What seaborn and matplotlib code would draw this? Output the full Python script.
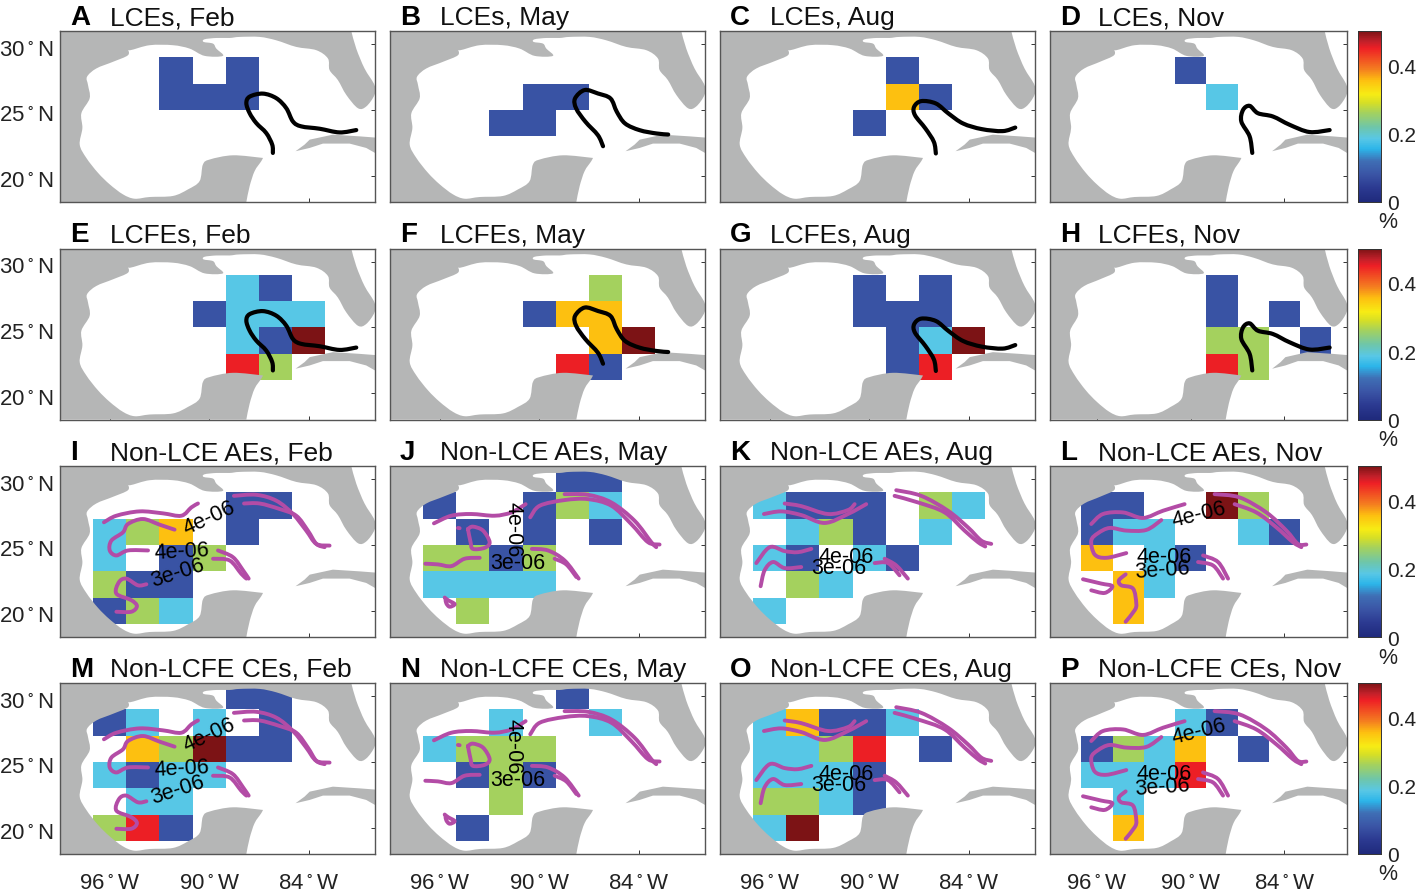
import matplotlib
matplotlib.use("Agg")
import matplotlib.pyplot as plt
from matplotlib.colors import LinearSegmentedColormap
from matplotlib.patches import PathPatch
from matplotlib.path import Path
from matplotlib.transforms import ScaledTranslation
import numpy as np
import pandas as pd
import seaborn as sns

sns.set_theme(style="white")
plt.rcParams['font.family'] = ['Liberation Sans', 'DejaVu Sans']
plt.rcParams['mathtext.default'] = 'regular'

# percentage levels seen in the cells
BLU, CYA, GRN, ORG, RED, DRK = 0.08, 0.185, 0.26, 0.355, 0.45, 0.5

# grid cells, (west edge lon, south edge lat, value)
lce_feb = [(-93, 27, BLU), (-89, 27, BLU), (-93, 25, BLU), (-91, 25, BLU), (-89, 25, BLU)]
lce_may = [(-91, 25, BLU), (-89, 25, BLU), (-93, 23, BLU), (-91, 23, BLU)]
lce_aug = [(-89, 27, BLU), (-89, 25, ORG), (-87, 25, BLU), (-91, 23, BLU)]
lce_nov = [(-91, 27, BLU), (-89, 25, CYA)]

lcfe_feb = [(-89, 27, CYA), (-87, 27, BLU), (-91, 25, BLU), (-89, 25, CYA), (-87, 25, CYA), (-85, 25, CYA),
            (-89, 23, CYA), (-87, 23, BLU), (-85, 23, DRK), (-89, 21, RED), (-87, 21, GRN)]
lcfe_may = [(-87, 27, GRN), (-91, 25, BLU), (-89, 25, ORG), (-87, 25, ORG), (-87, 23, ORG), (-85, 23, DRK),
            (-89, 21, RED), (-87, 21, BLU)]
lcfe_aug = [(-91, 27, BLU), (-87, 27, BLU), (-91, 25, BLU), (-89, 25, BLU), (-87, 25, BLU), (-89, 23, BLU),
            (-87, 23, CYA), (-85, 23, DRK), (-89, 21, BLU), (-87, 21, RED)]
lcfe_nov = [(-89, 27, BLU), (-89, 25, BLU), (-85, 25, BLU), (-89, 23, GRN), (-87, 23, GRN), (-83, 23, BLU),
            (-89, 21, RED), (-87, 21, GRN)]

ae_feb = [(-89, 27, BLU), (-87, 27, BLU), (-97, 25, CYA), (-95, 25, GRN), (-93, 25, ORG), (-89, 25, BLU),
          (-97, 23, CYA), (-93, 23, BLU), (-91, 23, GRN), (-97, 21, GRN), (-95, 21, BLU), (-93, 21, BLU),
          (-97, 19, BLU), (-95, 19, GRN), (-93, 19, CYA)]
ae_may = [(-89, 29, BLU), (-87, 29, BLU), (-97, 27, BLU), (-91, 27, BLU), (-89, 27, GRN), (-87, 27, CYA),
          (-95, 25, BLU), (-91, 25, BLU), (-87, 25, BLU), (-97, 23, GRN), (-95, 23, GRN), (-93, 23, BLU),
          (-91, 23, GRN), (-97, 21, CYA), (-95, 21, CYA), (-93, 21, CYA), (-91, 21, CYA), (-95, 19, GRN)]
ae_aug = [(-97, 27, CYA), (-95, 27, BLU), (-93, 27, BLU), (-91, 27, BLU), (-87, 27, GRN), (-85, 27, CYA),
          (-95, 25, CYA), (-93, 25, GRN), (-91, 25, BLU), (-87, 25, CYA), (-97, 23, CYA), (-95, 23, BLU),
          (-91, 23, CYA), (-89, 23, BLU), (-95, 21, GRN), (-93, 21, CYA), (-97, 19, CYA)]
ae_nov = [(-97, 27, BLU), (-95, 27, BLU), (-89, 27, DRK), (-87, 27, GRN), (-97, 25, BLU), (-95, 25, CYA),
          (-93, 25, CYA), (-87, 25, CYA), (-85, 25, BLU), (-97, 23, ORG), (-93, 23, CYA), (-91, 23, BLU),
          (-95, 21, ORG), (-93, 21, CYA), (-95, 19, ORG)]

ce_feb = [(-89, 29, BLU), (-87, 29, BLU), (-97, 27, BLU), (-95, 27, CYA), (-91, 27, CYA), (-87, 27, BLU),
          (-95, 25, ORG), (-93, 25, GRN), (-91, 25, DRK), (-89, 25, BLU), (-87, 25, BLU), (-97, 23, CYA),
          (-95, 23, BLU), (-93, 23, CYA), (-91, 23, CYA), (-95, 21, CYA), (-93, 21, CYA),
          (-97, 19, GRN), (-95, 19, RED), (-93, 19, BLU)]
ce_may = [(-89, 29, BLU), (-93, 27, CYA), (-87, 27, CYA), (-97, 25, CYA), (-95, 25, GRN), (-93, 25, GRN),
          (-91, 25, GRN), (-95, 23, BLU), (-93, 23, GRN), (-91, 23, BLU), (-93, 21, GRN), (-95, 19, BLU)]
ce_aug = [(-97, 27, CYA), (-95, 27, ORG), (-93, 27, BLU), (-91, 27, BLU), (-89, 27, CYA), (-97, 25, CYA),
          (-95, 25, CYA), (-93, 25, GRN), (-91, 25, RED), (-87, 25, BLU), (-97, 23, CYA), (-95, 23, CYA),
          (-93, 23, CYA), (-91, 23, BLU), (-97, 21, GRN), (-95, 21, GRN), (-93, 21, CYA), (-91, 21, BLU),
          (-97, 19, CYA), (-95, 19, DRK)]
ce_nov = [(-91, 27, CYA), (-89, 27, BLU), (-97, 25, BLU), (-95, 25, GRN), (-93, 25, CYA), (-91, 25, ORG),
          (-87, 25, BLU), (-97, 23, CYA), (-95, 23, CYA), (-93, 23, CYA), (-91, 23, RED), (-95, 21, CYA),
          (-95, 19, ORG)]

# coastline, lon / lat
coast_main = [(-86.76, 21.35), (-88.57, 21.55), (-89.97, 21.23), (-90.38, 20.85), (-90.58, 19.59), (-91.28, 18.96),
              (-92.19, 18.46), (-93.59, 18.38), (-94.5, 18.25), (-95.2, 18.58), (-96.0, 19.34), (-96.71, 20.22),
              (-97.41, 21.35), (-97.81, 22.36), (-97.65, 23.62), (-97.71, 24.75), (-97.21, 25.89), (-97.31, 26.89),
              (-97.37, 27.52), (-96.81, 28.15), (-95.8, 28.66), (-94.9, 29.16), (-94.9, 29.67), (-94.76, 29.54),
              (-93.59, 29.92), (-92.19, 29.92), (-91.18, 29.66), (-90.28, 29.11), (-89.17, 29.11), (-89.57, 29.66),
              (-89.77, 30.04), (-90.34, 30.17), (-90.28, 30.37), (-89.57, 30.47), (-88.77, 30.47), (-88.17, 30.55),
              (-86.96, 30.55), (-85.95, 30.29), (-84.75, 29.79), (-83.54, 29.54), (-82.84, 28.91), (-82.74, 28.03),
              (-82.24, 27.27), (-81.73, 26.14), (-81.03, 25.13), (-80.53, 25.26), (-80.03, 26.14), (-80.03, 26.89),
              (-80.63, 28.15), (-81.13, 29.66), (-81.43, 31)]
coast_corners = [(-99, 31), (-99, 18), (-87.76, 18)]
coast_east = [(-87.76, 18), (-87.56, 19.21), (-87.26, 20.35), (-86.86, 21.1), (-86.76, 21.35)]
cuba_lon = [-84.79, -84.25, -83.94, -82.54, -80.93, -80, -80, -80.53, -81.53, -83.14, -83.94]
cuba_lat = [21.86, 22.36, 22.74, 23.12, 22.99, 22.9, 21.73, 22.11, 22.44, 22.44, 22.11]

# loop current front, one path per month
loop_feb = [(-86.16, 21.73), (-86.2, 22.36), (-86.56, 23.24), (-87.16, 24.0), (-87.56, 24.75), (-87.76, 25.51),
            (-87.56, 26.01), (-86.76, 26.24), (-85.95, 25.89), (-85.35, 25.13), (-84.95, 24.12), (-84.45, 23.75),
            (-83.34, 23.57), (-82.14, 23.29), (-81.13, 23.47)]
loop_may = [(-86.15, 22.24), (-86.46, 23.08), (-87.21, 24.1), (-87.77, 25.11), (-87.84, 25.87), (-87.26, 26.51),
            (-86.46, 26.25), (-85.7, 25.87), (-85.32, 24.86), (-84.82, 23.97), (-83.94, 23.46), (-82.93, 23.21),
            (-82.22, 23.13)]
loop_aug = [(-85.98, 21.69), (-86.1, 22.57), (-86.61, 23.59), (-87.24, 24.6), (-87.29, 25.24), (-86.86, 25.67),
            (-85.98, 25.49), (-85.22, 24.73), (-84.34, 23.97), (-83.21, 23.54), (-81.95, 23.39), (-81.19, 23.66)]
loop_nov = [(-86.06, 21.73), (-86.23, 22.99), (-86.76, 24.12), (-86.65, 25.0), (-86.23, 25.31), (-85.7, 24.75),
            (-84.74, 24.5), (-83.67, 23.87), (-82.4, 23.32), (-81.11, 23.47)]

# purple contour pieces for the non-LC rows
cont_feb = [
    [(-96.35, 26.72), (-95.6, 27.22), (-94.2, 27.55), (-92.79, 27.4), (-91.68, 27.22), (-91.08, 27.85), (-90.68, 28.15)],
    [(-92.09, 26.16), (-92.99, 26.54), (-94.0, 26.97), (-94.9, 26.59), (-95.2, 25.96), (-95.9, 25.33), (-96.0, 24.58),
     (-95.6, 24.2), (-94.9, 24.58), (-93.69, 24.58)],
    [(-88.51, 28.73), (-87.16, 28.81), (-85.95, 28.36), (-84.95, 27.35), (-84.15, 26.09), (-83.54, 25.08), (-82.74, 24.95)],
    [(-87.9, 28.15), (-86.96, 28.15), (-85.75, 27.73), (-84.75, 27.22), (-84.05, 26.09), (-83.54, 25.08), (-83.04, 24.83)],
    [(-89.47, 24.58), (-88.57, 24.07), (-87.96, 23.07), (-87.62, 22.44)],
    [(-89.77, 23.95), (-88.77, 23.82), (-88.07, 22.81), (-87.76, 22.44)],
    [(-93.79, 22.01), (-94.3, 21.93), (-95.0, 22.44), (-95.44, 22.18), (-95.6, 21.3), (-94.7, 20.8), (-94.36, 20.35),
     (-94.7, 19.92), (-95.6, 19.92)],
]
cont_may = [
    [(-96.35, 26.64), (-95.3, 27.22), (-94.1, 27.35), (-92.69, 27.22), (-91.68, 27.47), (-90.82, 28.1)],
    [(-90.54, 27.1), (-89.97, 27.98), (-88.47, 28.41), (-87.06, 28.48), (-85.65, 27.98), (-84.45, 26.59), (-83.44, 25.21), (-82.74, 25.03)],
    [(-88.47, 28.86), (-87.06, 28.81), (-85.65, 28.23), (-84.25, 26.84), (-83.24, 25.21), (-82.94, 24.83)],
    [(-94.3, 26.21), (-94.14, 25.21), (-94.0, 24.7), (-93.29, 24.78), (-92.99, 25.21), (-93.39, 26.09), (-94.0, 26.39), (-94.3, 26.21)],
    [(-94.9, 26.29), (-94.8, 26.27)],
    [(-96.87, 23.57), (-96.11, 23.52), (-95.3, 23.39), (-94.5, 23.95), (-93.59, 24.02)],
    [(-90.44, 24.7), (-89.47, 24.58), (-88.47, 23.82), (-87.62, 22.44)],
    [(-89.07, 23.95), (-88.37, 23.52), (-87.76, 22.56)],
    [(-95.7, 21.0), (-95.5, 20.8), (-95.1, 20.5), (-95.4, 20.3), (-95.6, 20.55), (-95.65, 20.85)],
]
cont_aug = [
    [(-96.35, 27.35), (-95.3, 27.55), (-94.1, 27.27), (-92.69, 26.67), (-91.28, 27.35), (-90.18, 28.1)],
    [(-95.1, 28.15), (-94.1, 27.95), (-92.49, 27.35), (-91.28, 27.65), (-90.88, 28.1)],
    [(-88.37, 29.16), (-86.86, 28.73), (-85.25, 27.6), (-84.05, 26.34), (-83.24, 25.33), (-82.64, 25.08)],
    [(-88.47, 28.73), (-87.06, 28.23), (-85.45, 27.47), (-84.25, 26.09), (-83.44, 25.21), (-83.0, 24.88)],
    [(-96.81, 23.62), (-96.0, 24.83), (-95.1, 24.53), (-94.3, 24.45), (-93.49, 24.7)],
    [(-96.55, 21.86), (-96.31, 23.07), (-95.8, 23.7), (-95.1, 23.24), (-94.1, 23.32)],
    [(-89.67, 23.62), (-88.87, 23.62), (-88.17, 22.69)],
    [(-89.07, 23.95), (-88.37, 23.44), (-87.67, 22.44)],
]
cont_nov = [
    [(-96.36, 26.59), (-95.61, 27.35), (-94.33, 27.47), (-93.05, 27.05), (-91.77, 27.6), (-90.39, 28.1)],
    [(-91.88, 26.89), (-92.84, 26.14), (-94.12, 26.09), (-95.18, 26.29), (-95.93, 25.89), (-96.36, 25.33), (-96.14, 24.27),
     (-95.4, 24.02), (-94.12, 24.38)],
    [(-88.47, 28.86), (-86.87, 28.61), (-85.16, 27.47), (-83.88, 26.09), (-83.14, 25.08), (-82.6, 25.03)],
    [(-87.19, 28.1), (-85.8, 27.47), (-84.52, 26.34), (-83.46, 25.21), (-82.92, 24.83)],
    [(-89.21, 24.2), (-88.25, 23.7), (-87.61, 22.44)],
    [(-89.53, 23.7), (-88.57, 23.44), (-87.93, 22.44)],
    [(-96.89, 22.39), (-95.72, 22.06), (-95.01, 21.86), (-95.5, 21.35), (-96.36, 21.55)],
    [(-94.16, 22.76), (-94.59, 22.31), (-94.44, 21.93), (-93.69, 21.68), (-93.48, 20.55), (-93.58, 20.04), (-94.16, 19.16)],
]

# contour labels, (lon, lat, text, rotation)
labels_feb = [(-89.97, 27.1, "4e-06", 25), (-91.64, 24.5, "4e-06", 3), (-91.88, 22.95, "3e-06", 18)]
labels_may = [(-91.58, 26.21, "4e-06", 270), (-91.32, 23.65, "3e-06", 0)]
labels_aug = [(-91.38, 24.15, "4e-06", 0), (-91.84, 23.28, "3e-06", 0)]
labels_nov = [(-89.47, 27.35, "4e-06", 14), (-91.67, 24.1, "4e-06", 0), (-91.84, 23.1, "3e-06", 4)]

letters = list("ABCDEFGHIJKLMNOP")
months = ["Feb", "May", "Aug", "Nov"]
groups = ["LCEs", "LCFEs", "Non-LCE AEs", "Non-LCFE CEs"]
panel_cells = [lce_feb, lce_may, lce_aug, lce_nov, lcfe_feb, lcfe_may, lcfe_aug, lcfe_nov,
               ae_feb, ae_may, ae_aug, ae_nov, ce_feb, ce_may, ce_aug, ce_nov]
loops = [loop_feb, loop_may, loop_aug, loop_nov]
contours = [cont_feb, cont_may, cont_aug, cont_nov]
contour_labels = [labels_feb, labels_may, labels_aug, labels_nov]

west_edges = list(range(-99, -79, 2))
south_edges = [29, 27, 25, 23, 21, 19]

colour_stops = [(0, "#1f2a7c"), (0.04, "#2b3990"), (0.08, "#3a54a5"), (0.12, "#3f6fb5"), (0.155, "#2cb5e9"),
                (0.185, "#58c7e6"), (0.22, "#6fc6a8"), (0.26, "#a3d15f"), (0.29, "#d6df26"), (0.315, "#f7ec14"),
                (0.355, "#fdc010"), (0.39, "#f47b20"), (0.45, "#ee1f25"), (0.47, "#c2202a"), (0.5, "#7c1315")]
eddy_cmap = LinearSegmentedColormap.from_list("eddy", [(v / 0.5, c) for v, c in colour_stops], N=256)

W, H = 1417, 895
lefts = [60, 390, 720, 1050]
widths = [315, 315, 315, 297]
tops = [32, 249.5, 467, 684]
P_H = 171
LAND = "#b5b6b6"
PURPLE = "#b34ca6"
DARK = "#333333"
TICK_FS = 16


def to_xy(points):
    pts = np.asarray(points, dtype=float)
    return np.column_stack([(pts[:, 0] + 99) / 2, (31 - pts[:, 1]) / 2])


def curve_through(pts):
    # bezier handles so the drawn line passes smoothly through the read points
    verts, codes = [], []
    for k in range(len(pts) - 1):
        before = pts[max(k - 1, 0)]
        after = pts[min(k + 2, len(pts) - 1)]
        verts += [pts[k] + (pts[k + 1] - before) / 6, pts[k + 1] - (after - pts[k]) / 6, pts[k + 1]]
        codes += [Path.CURVE4] * 3
    return verts, codes


def line_path(points):
    pts = to_xy(points)
    verts, codes = curve_through(pts)
    return Path([pts[0]] + verts, [Path.MOVETO] + codes)


def land_path():
    main, east = to_xy(coast_main), to_xy(coast_east)
    v1, c1 = curve_through(main)
    v2, c2 = curve_through(east)
    corners = to_xy(coast_corners)
    verts = [main[0]] + v1 + list(corners) + v2 + [main[0]]
    codes = [Path.MOVETO] + c1 + [Path.LINETO] * len(corners) + c2 + [Path.CLOSEPOLY]
    return Path(verts, codes)


def px_axes(fig, x, y, w, h):
    return fig.add_axes([x / W, 1 - (y + h) / H, w / W, h / H])


def draw_path(ax, points, color, lw):
    ax.add_patch(PathPatch(line_path(points), fill=False, edgecolor=color, lw=lw, capstyle="round",
                           joinstyle="round", zorder=3))


fig = plt.figure(figsize=(W / 100, H / 100), dpi=100)
label_shift = ScaledTranslation(0, -0.05, fig.dpi_scale_trans)

for i, cells in enumerate(panel_cells):
    row, col = divmod(i, 4)
    ax = px_axes(fig, lefts[col], tops[row], widths[col], P_H)

    grid = pd.DataFrame(np.nan, index=south_edges, columns=west_edges)
    for lon, lat, val in cells:
        grid.loc[lat, lon] = val

    # the colorbar hangs off the last panel in each row
    if col == 3:
        cax = px_axes(fig, 1358, tops[row], 23, P_H)
        sns.heatmap(grid, ax=ax, cmap=eddy_cmap, vmin=0, vmax=0.5, cbar=True, cbar_ax=cax)
        cax.set_yticks([0, 0.2, 0.4])
        cax.set_yticklabels(["0", "0.2", "0.4"], fontsize=15, color="#222222")
        cax.tick_params(axis="y", length=0, pad=4.5, right=False)
        cax.annotate("%", (0, 0), xycoords="axes fraction", xytext=(30, -20), textcoords="offset pixels",
                     ha="center", va="center", fontsize=15.5, color="#222222", annotation_clip=False)
        for s in cax.spines.values():
            s.set_visible(True)
            s.set_linewidth(0.6)
            s.set_color(DARK)
    else:
        sns.heatmap(grid, ax=ax, cmap=eddy_cmap, vmin=0, vmax=0.5, cbar=False)

    ax.add_patch(PathPatch(land_path(), facecolor=LAND, lw=0, zorder=2))
    ax.fill(*to_xy(list(zip(cuba_lon, cuba_lat))).T, color=LAND, lw=0, zorder=2)

    if row < 2:
        draw_path(ax, loops[col], "black", 3.0)
    else:
        for piece in contours[col]:
            draw_path(ax, piece, PURPLE, 2.8)
        for lon, lat, txt, rot in contour_labels[col]:
            x, y = to_xy([(lon, lat)])[0]
            ax.text(x, y, txt, rotation=rot, ha="center", va="center", fontsize=15.5, color="black",
                    zorder=4, rotation_mode="anchor")

    ax.set_xlim(0, 9.5)
    ax.set_ylim(6.5, 0)
    ax.set_xticks(to_xy([(-96, 20), (-90, 20), (-84, 20)])[:, 0])
    ax.set_yticks(to_xy([(-96, 30), (-96, 25), (-96, 20)])[:, 1])
    ax.set_xlabel("")
    ax.set_ylabel("")
    ax.set_xticklabels([r"96$\,^{\circ}\,$W", r"90$\,^{\circ}\,$W", r"84$\,^{\circ}\,$W"] if row == 3 else [],
                       rotation=0, fontsize=TICK_FS, color="#222222")
    ax.set_yticklabels([r"30$\,^{\circ}\,$N", r"25$\,^{\circ}\,$N", r"20$\,^{\circ}\,$N"] if col == 0 else [],
                       rotation=0, fontsize=TICK_FS, color="#222222")
    ax.tick_params(axis="both", which="major", direction="in", length=3, width=0.7, color=DARK,
                   top=True, bottom=True, left=True, right=True)
    ax.tick_params(axis="y", pad=5)
    ax.tick_params(axis="x", pad=13)
    for lab in ax.get_yticklabels():
        lab.set_transform(lab.get_transform() + label_shift)
    for s in ax.spines.values():
        s.set_visible(True)
        s.set_linewidth(1.0)
        s.set_color("#555555")

    # panel letter and title sit just over the frame
    ax.annotate(letters[i], (0, 1), xycoords="axes fraction", xytext=(10, 7), textcoords="offset pixels",
                fontsize=20, fontweight="bold", color="black", va="baseline", annotation_clip=False)
    ax.annotate(f"{groups[row]}, {months[col]}", (0, 1), xycoords="axes fraction", xytext=(50 if col < 3 else 48, 7),
                textcoords="offset pixels", fontsize=19, color="#111111", va="baseline", annotation_clip=False)

fig.savefig("out.png", dpi=100)
